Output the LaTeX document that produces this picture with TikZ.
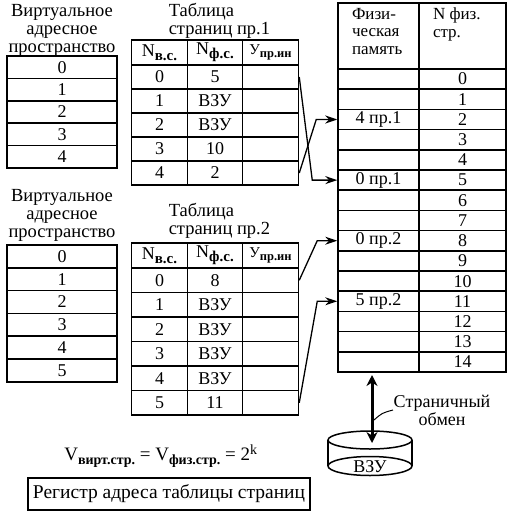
\documentclass[tikz,border=0pt]{standalone}
\usepackage{fontspec}
\setmainfont{Liberation Serif}
\usetikzlibrary{arrows.meta}

\newcommand{\subb}[2][13]{\raisebox{-0.45ex}{\fontsize{#1}{#1}\selectfont\bfseries #2}}
\newcommand{\txt}{\fontsize{18}{18}\selectfont}
\newcommand{\ttl}{\fontsize{18.5}{18}\selectfont}

\tikzset{
  cell/.style={draw, rectangle, inner sep=0pt, font=\txt},
  title/.style={align=center, inner sep=0pt, font=\ttl},
  arr/.style={-{Stealth[length=12pt,width=8pt]}, line width=1.3pt},
  dblarr/.style={{Stealth[length=11pt,width=11pt]}-{Stealth[length=11pt,width=11pt]}, line width=3pt}
}

\begin{document}
\begin{tikzpicture}[x=1pt, y=-1pt, line width=1.5pt]

      \useasboundingbox (0,0) rectangle (513,519);

      % virtual space 1
      \node[title] (va-t) at (62,30) {Виртуальное\\адресное\\пространство};
      \begin{scope}[every node/.style={cell, minimum width=110pt, minimum height=22.4pt}]
        \node (va0) at (62,67.2)  {0};
        \node (va1) at (62,89.6)  {1};
        \node (va2) at (62,112.0) {2};
        \node (va3) at (62,134.4) {3};
        \node (va4) at (62,156.8) {4};
      \end{scope}

      % virtual space 2
      \node[title] (vb-t) at (62,215) {Виртуальное\\адресное\\пространство};
      \begin{scope}[every node/.style={cell, minimum width=110pt, minimum height=22.8pt}]
        \node (vb0) at (62,256.4) {0};
        \node (vb1) at (62,279.2) {1};
        \node (vb2) at (62,302.0) {2};
        \node (vb3) at (62,324.8) {3};
        \node (vb4) at (62,347.6) {4};
        \node (vb5) at (62,370.4) {5};
      \end{scope}

      % page table 1
      \node[title, align=left, anchor=west] (ta-t) at (168,21) {Таблица\\страниц пр.1};
      \begin{scope}[every node/.style={cell, minimum height=25pt}]
        \node[minimum width=56pt] (ta-hn) at (159.5,52.5) {N\subb[15]{в.с.}};
        \node[minimum width=55pt] (ta-hf) at (215,52.5) {N\subb[15]{ф.с.}};
        \node[minimum width=56pt, font=\fontsize{15}{15}\selectfont] (ta-hu) at (270.5,52.5) {У\subb[12.5]{пр.ин}};
      \end{scope}
      \begin{scope}[every node/.style={cell, minimum height=24pt}]
        \node[minimum width=56pt] (ta0n) at (159.5,77)  {0};
        \node[minimum width=55pt] (ta0f) at (215,77)    {5};
        \node[minimum width=56pt] (ta0u) at (270.5,77)  {};
        \node[minimum width=56pt] (ta1n) at (159.5,101) {1};
        \node[minimum width=55pt] (ta1f) at (215,101)   {ВЗУ};
        \node[minimum width=56pt] (ta1u) at (270.5,101) {};
        \node[minimum width=56pt] (ta2n) at (159.5,125) {2};
        \node[minimum width=55pt] (ta2f) at (215,125)   {ВЗУ};
        \node[minimum width=56pt] (ta2u) at (270.5,125) {};
        \node[minimum width=56pt] (ta3n) at (159.5,149) {3};
        \node[minimum width=55pt] (ta3f) at (215,149)   {10};
        \node[minimum width=56pt] (ta3u) at (270.5,149) {};
        \node[minimum width=56pt] (ta4n) at (159.5,173) {4};
        \node[minimum width=55pt] (ta4f) at (215,173)   {2};
        \node[minimum width=56pt] (ta4u) at (270.5,173) {};
      \end{scope}

      % page table 2
      \node[title, align=left, anchor=west] (tb-t) at (168,221) {Таблица\\страниц пр.2};
      \begin{scope}[every node/.style={cell, minimum height=25pt}]
        \node[minimum width=56pt] (tb-hn) at (159.5,255.5) {N\subb[15]{в.с.}};
        \node[minimum width=55pt] (tb-hf) at (215,255.5) {N\subb[15]{ф.с.}};
        \node[minimum width=56pt, font=\fontsize{15}{15}\selectfont] (tb-hu) at (270.5,255.5) {У\subb[12.5]{пр.ин}};
      \end{scope}
      \begin{scope}[every node/.style={cell, minimum height=24.5pt}]
        \node[minimum width=56pt] (tb0n) at (159.5,280.25) {0};
        \node[minimum width=55pt] (tb0f) at (215,280.25)   {8};
        \node[minimum width=56pt] (tb0u) at (270.5,280.25) {};
        \node[minimum width=56pt] (tb1n) at (159.5,304.75) {1};
        \node[minimum width=55pt] (tb1f) at (215,304.75)   {ВЗУ};
        \node[minimum width=56pt] (tb1u) at (270.5,304.75) {};
        \node[minimum width=56pt] (tb2n) at (159.5,329.25) {2};
        \node[minimum width=55pt] (tb2f) at (215,329.25)   {ВЗУ};
        \node[minimum width=56pt] (tb2u) at (270.5,329.25) {};
        \node[minimum width=56pt] (tb3n) at (159.5,353.75) {3};
        \node[minimum width=55pt] (tb3f) at (215,353.75)   {ВЗУ};
        \node[minimum width=56pt] (tb3u) at (270.5,353.75) {};
        \node[minimum width=56pt] (tb4n) at (159.5,378.25) {4};
        \node[minimum width=55pt] (tb4f) at (215,378.25)   {ВЗУ};
        \node[minimum width=56pt] (tb4u) at (270.5,378.25) {};
        \node[minimum width=56pt] (tb5n) at (159.5,402.75) {5};
        \node[minimum width=55pt] (tb5f) at (215,402.75)   {11};
        \node[minimum width=56pt] (tb5u) at (270.5,402.75) {};
      \end{scope}

      % physical memory
      \node[cell, minimum width=81pt, minimum height=66pt] (ph-hl) at (378.5,36) {};
      \node[cell, minimum width=87pt, minimum height=66pt] (ph-hr) at (462.5,36) {};
      \node[title, align=left, anchor=north west, font=\fontsize{17}{17.5}\selectfont] at (ph-hl.north west) [xshift=14pt, yshift=-5pt] {Физи-\\ческая\\память};
      \node[title, align=left, anchor=north west, font=\fontsize{17}{17.5}\selectfont] at (ph-hr.north west) [xshift=14pt, yshift=-5pt] {N физ.\\стр.};
      \begin{scope}[every node/.style={cell, minimum height=20.2pt}]
        \node[minimum width=81pt] (p0l)  at (378.5,79.1)  {};
        \node[minimum width=87pt] (p0r)  at (462.5,79.1)  {0};
        \node[minimum width=81pt] (p1l)  at (378.5,99.3)  {};
        \node[minimum width=87pt] (p1r)  at (462.5,99.3)  {1};
        \node[minimum width=81pt] (p2l)  at (378.5,119.5) {4 пр.1};
        \node[minimum width=87pt] (p2r)  at (462.5,119.5) {2};
        \node[minimum width=81pt] (p3l)  at (378.5,139.7) {};
        \node[minimum width=87pt] (p3r)  at (462.5,139.7) {3};
        \node[minimum width=81pt] (p4l)  at (378.5,159.9) {};
        \node[minimum width=87pt] (p4r)  at (462.5,159.9) {4};
        \node[minimum width=81pt] (p5l)  at (378.5,180.1) {0 пр.1};
        \node[minimum width=87pt] (p5r)  at (462.5,180.1) {5};
        \node[minimum width=81pt] (p6l)  at (378.5,200.3) {};
        \node[minimum width=87pt] (p6r)  at (462.5,200.3) {6};
        \node[minimum width=81pt] (p7l)  at (378.5,220.5) {};
        \node[minimum width=87pt] (p7r)  at (462.5,220.5) {7};
        \node[minimum width=81pt] (p8l)  at (378.5,240.7) {0 пр.2};
        \node[minimum width=87pt] (p8r)  at (462.5,240.7) {8};
        \node[minimum width=81pt] (p9l)  at (378.5,260.9) {};
        \node[minimum width=87pt] (p9r)  at (462.5,260.9) {9};
        \node[minimum width=81pt] (p10l) at (378.5,281.1) {};
        \node[minimum width=87pt] (p10r) at (462.5,281.1) {10};
        \node[minimum width=81pt] (p11l) at (378.5,301.3) {5 пр.2};
        \node[minimum width=87pt] (p11r) at (462.5,301.3) {11};
        \node[minimum width=81pt] (p12l) at (378.5,321.5) {};
        \node[minimum width=87pt] (p12r) at (462.5,321.5) {12};
        \node[minimum width=81pt] (p13l) at (378.5,341.7) {};
        \node[minimum width=87pt] (p13r) at (462.5,341.7) {13};
        \node[minimum width=81pt] (p14l) at (378.5,361.9) {};
        \node[minimum width=87pt] (p14r) at (462.5,361.9) {14};
      \end{scope}

      % page table -> physical page
      \draw[arr] (ta0u.east) -- ([xshift=-25pt]p5l.west) -- (p5l.west);
      \draw[arr] (ta4u.east) -- ([xshift=-21pt]p2l.west) -- (p2l.west);
      \draw[arr] (tb0u.east) -- ([xshift=-20pt]p8l.west) -- (p8l.west);
      \draw[arr] (tb5u.east) -- ([xshift=-20pt]p11l.west) -- (p11l.west);

      % external storage
      \draw (370,440) ellipse [x radius=42pt, y radius=9pt];
      \draw (328,440) -- (328,466);
      \draw (412,440) -- (412,466);
      \draw (370,466) ellipse [x radius=42pt, y radius=9.5pt];
      \node[font=\txt] (vzu) at (370,467) {ВЗУ};

      \coordinate (xch-a) at (372,375);
      \coordinate (xch-b) at (372,443);
      \draw[dblarr] (xch-a) -- (xch-b);
      \node[title, font=\fontsize{18}{18}\selectfont] (xch-l) at (442,410) {Страничный\\обмен};
      \coordinate (lead) at (374,420);
      \draw[line width=1pt] (lead) .. controls (382,413) .. (xch-l.west);

      \node[font=\fontsize{19}{19}\selectfont] (vol) at (161,456) {V\subb[14]{вирт.стр.} = V\subb[14]{физ.стр.} = 2\textsuperscript{\fontsize{14}{14}\selectfont k}};
      \node[cell, font=\fontsize{19.5}{19.5}\selectfont, minimum width=282pt, minimum height=32pt] (reg) at (169,494) {Регистр адреса таблицы страниц};

    \end{tikzpicture}
\end{document}
